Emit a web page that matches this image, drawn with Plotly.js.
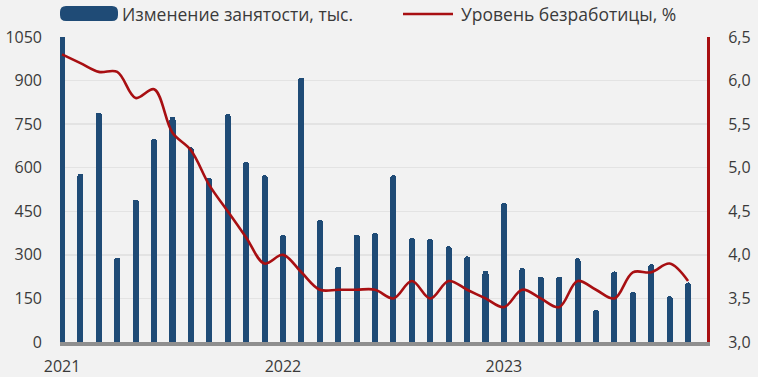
<!DOCTYPE html>
<html>
<head>
<meta charset="utf-8">
<script src="https://cdn.plot.ly/plotly-3.0.1.min.js"></script>
<style>html,body{margin:0;padding:0;background:#f2f2f2;}#chart{width:758px;height:377px;}</style>
</head>
<body>
<div id="chart"></div>
<script>
// Months Jan 2021 – Nov 2023
const months = [
  "2021-01","2021-02","2021-03","2021-04","2021-05","2021-06","2021-07","2021-08","2021-09","2021-10","2021-11","2021-12",
  "2022-01","2022-02","2022-03","2022-04","2022-05","2022-06","2022-07","2022-08","2022-09","2022-10","2022-11","2022-12",
  "2023-01","2023-02","2023-03","2023-04","2023-05","2023-06","2023-07","2023-08","2023-09","2023-10","2023-11"
];
// Изменение занятости, тыс.
const employmentChange = [
  1100, 580, 790, 290, 490, 700, 775, 670, 565, 785, 620, 575,
  370, 910, 420, 260, 370, 375, 575, 358, 355, 330, 295, 245,
  480, 255, 225, 225, 288, 112, 243, 173, 268, 158, 205
];
// Уровень безработицы, %
const unemploymentRate = [
  6.3, 6.2, 6.1, 6.1, 5.8, 5.9, 5.4, 5.2, 4.8, 4.5, 4.2, 3.9,
  4.0, 3.8, 3.6, 3.6, 3.6, 3.6, 3.5, 3.7, 3.5, 3.7, 3.6, 3.5,
  3.4, 3.6, 3.5, 3.4, 3.7, 3.6, 3.5, 3.8, 3.8, 3.9, 3.7
];
const yearTickVals = ["2021-01","2022-01","2023-01"];
const yearTickText = ["2021","2022","2023"];
const legendLabels = ["Изменение занятости, тыс.", "Уровень безработицы, %"];

const barColor = "#1f4b76";
const lineColor = "#a80f12";
const fontFam = "'Open Sans', 'DejaVu Sans', sans-serif";
const textColor = "#3a3a3a";

// plot area geometry (px) for legend placement
const L = 60, R = 707, T = 37, B = 342;
const px = v => (v - L) / (R - L);
const py = v => (B - v) / (B - T);

function roundRect(x0, y0, x1, y1, r) {
  const X0 = px(x0), X1 = px(x1), Yt = py(y0), Yb = py(y1);
  const rx = r / (R - L), ry = r / (B - T);
  return `M ${X0+rx},${Yt} L ${X1-rx},${Yt} Q ${X1},${Yt} ${X1},${Yt-ry} L ${X1},${Yb+ry} Q ${X1},${Yb} ${X1-rx},${Yb} L ${X0+rx},${Yb} Q ${X0},${Yb} ${X0},${Yb+ry} L ${X0},${Yt-ry} Q ${X0},${Yt} ${X0+rx},${Yt} Z`;
}

const traces = [
  {
    type: "bar", x: months, y: employmentChange, name: legendLabels[0],
    marker: {color: barColor, cornerradius: 3}, width: 0.33,
    yaxis: "y", showlegend: false, hoverinfo: "x+y"
  },
  {
    type: "scatter", mode: "lines", x: months, y: unemploymentRate, name: legendLabels[1],
    line: {color: lineColor, width: 2.6, shape: "spline", smoothing: 1},
    yaxis: "y2", showlegend: false
  }
];

const tickFont = {family: fontFam, size: 16, color: textColor};

const layout = {
  width: 758, height: 377,
  margin: {l: L, r: 758 - R, t: T, b: 377 - B},
  paper_bgcolor: "#f2f2f2", plot_bgcolor: "#f2f2f2",
  separators: ", ",
  font: {family: fontFam, size: 16, color: textColor},
  bargap: 0,
  xaxis: {
    type: "category", range: [-0.11, 35.03],
    tickmode: "array", tickvals: yearTickVals, ticktext: yearTickText,
    showgrid: false, zeroline: false,
    showline: true, linecolor: "#8f8f8f", linewidth: 3.5,
    ticks: "", ticklabelstandoff: 7,
    tickfont: tickFont
  },
  yaxis: {
    range: [0, 1050], tickmode: "linear", tick0: 0, dtick: 150,
    showgrid: true, gridcolor: "#e3e3e3", gridwidth: 1.5,
    zeroline: false, showline: false, ticks: "",
    ticklabelstandoff: 17,
    tickfont: tickFont
  },
  yaxis2: {
    overlaying: "y", side: "right",
    range: [3.0, 6.5], tickmode: "linear", tick0: 3, dtick: 0.5, tickformat: ".1f",
    showgrid: false, zeroline: false,
    showline: true, linecolor: lineColor, linewidth: 3,
    ticks: "", ticklabelstandoff: 15,
    tickfont: tickFont
  },
  shapes: [
    {type: "path", xref: "paper", yref: "paper", path: roundRect(60, 6, 118, 21, 6),
     fillcolor: barColor, line: {width: 0}},
    {type: "line", xref: "paper", yref: "paper", x0: px(403), x1: px(453), y0: py(14), y1: py(14),
     line: {color: lineColor, width: 2.6}}
  ],
  annotations: [
    {xref: "paper", yref: "paper", x: px(120), y: py(13.5), xanchor: "left", yanchor: "middle",
     text: legendLabels[0], showarrow: false, font: {family: fontFam, size: 17.5, color: textColor}},
    {xref: "paper", yref: "paper", x: px(459), y: py(13.5), xanchor: "left", yanchor: "middle",
     text: legendLabels[1], showarrow: false, font: {family: fontFam, size: 17.5, color: textColor}}
  ]
};

Plotly.newPlot("chart", traces, layout, {staticPlot: true, displayModeBar: false});
</script>
</body>
</html>
